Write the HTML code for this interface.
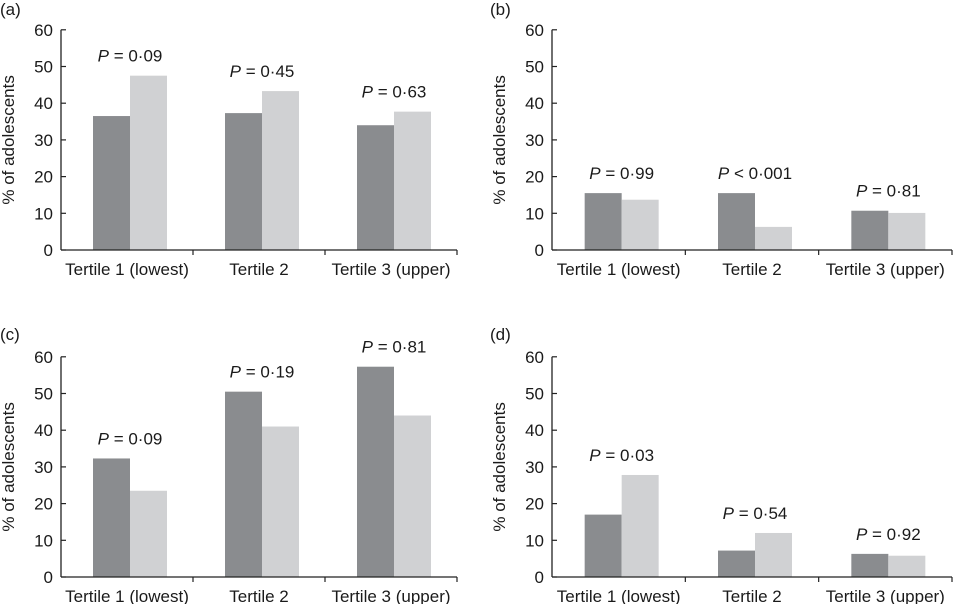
<!DOCTYPE html>
<html><head><meta charset="utf-8">
<style>
body{margin:0;background:#fff;}
svg text{font-family:"Liberation Sans",Arial,sans-serif;font-size:17px;fill:#1a1a1a;}
</style></head>
<body>
<svg id="chart" width="954" height="604" xmlns="http://www.w3.org/2000/svg"></svg>
<script>
const categories = ["Tertile 1 (lowest)", "Tertile 2", "Tertile 3 (upper)"];
const panelLetters = ["(a)", "(b)", "(c)", "(d)"];
const yTicks = [0, 10, 20, 30, 40, 50, 60];
const seriesDarkA = [36.5, 37.3, 34];
const seriesLightA = [47.5, 43.3, 37.7];
const seriesDarkB = [15.5, 15.5, 10.7];
const seriesLightB = [13.7, 6.3, 10.1];
const seriesDarkC = [32.3, 50.5, 57.3];
const seriesLightC = [23.5, 41, 44];
const seriesDarkD = [17, 7.2, 6.3];
const seriesLightD = [27.8, 12, 5.8];
const pLabelsA = ["P = 0·09", "P = 0·45", "P = 0·63"];
const pLabelsB = ["P = 0·99", "P < 0·001", "P = 0·81"];
const pLabelsC = ["P = 0·09", "P = 0·19", "P = 0·81"];
const pLabelsD = ["P = 0·03", "P = 0·54", "P = 0·92"];

const NS = "http://www.w3.org/2000/svg";
const svg = document.getElementById("chart");
function mk(tag, attrs, parent){const e=document.createElementNS(NS,tag);for(const k in attrs)e.setAttribute(k,attrs[k]);(parent||svg).appendChild(e);return e;}

const panels = [
 {x0:61, y0:250, w:396, dark:seriesDarkA, light:seriesLightA, p:pLabelsA, letter:panelLetters[0], lx:0, ly:15},
 {x0:552, y0:250, w:400, dark:seriesDarkB, light:seriesLightB, p:pLabelsB, letter:panelLetters[1], lx:490, ly:15},
 {x0:61, y0:577, w:396, dark:seriesDarkC, light:seriesLightC, p:pLabelsC, letter:panelLetters[2], lx:0, ly:340},
 {x0:552, y0:577, w:400, dark:seriesDarkD, light:seriesLightD, p:pLabelsD, letter:panelLetters[3], lx:490, ly:340}
];
const names=["a","b","c","d"];
panels.forEach((P,pi)=>{
  const g = mk("g",{});
  
  
  const yS = v => P.y0 - v*3.67;
  const cw = P.w/3;
  const lt = mk("text",{x:P.lx,y:P.ly},g); lt.textContent=P.letter;
  
  
  const ya = mk("line",{x1:P.x0,y1:yS(60),x2:P.x0,y2:P.y0,stroke:"#222","stroke-width":1.3},g);
  
  
  yTicks.forEach(t=>{
    mk("line",{x1:P.x0,y1:yS(t),x2:P.x0+5,y2:yS(t),stroke:"#222","stroke-width":1.2},g);
    const tt = mk("text",{x:P.x0-8,y:yS(t)+6,"text-anchor":"end"},g); tt.textContent=t;
    
    
  });
  const yt = mk("text",{transform:`translate(${P.x0-47},${yS(30)}) rotate(-90)`,"text-anchor":"middle"},g);
  yt.textContent="% of adolescents";
  
  
  categories.forEach((c,i)=>{
    const cx = P.x0 + cw*(i+0.5);
    const bw = 37;
    const bx = cx - bw + 3;
    const bd = mk("rect",{x:bx,y:yS(P.dark[i]),width:bw,height:P.y0-yS(P.dark[i]),fill:"#8a8c8f"},g);
    
    
    const bl = mk("rect",{x:bx+bw,y:yS(P.light[i]),width:bw,height:P.y0-yS(P.light[i]),fill:"#d0d1d3"},g);
    
    
    const top = yS(Math.max(P.dark[i],P.light[i]));
    const pt = mk("text",{x:cx+3,y:top-14,"text-anchor":"middle"},g);
    const parts = P.p[i].split(" ");
    const ts1 = mk("tspan",{"font-style":"italic"},pt); ts1.textContent=parts[0];
    const ts2 = mk("tspan",{},pt); ts2.textContent=" "+parts.slice(1).join(" ");
    
    
    const xl = mk("text",{x:cx,y:P.y0+25,"text-anchor":"middle"},g); xl.textContent=c;
    
    
    if(i>0) mk("line",{x1:P.x0+cw*i,y1:P.y0,x2:P.x0+cw*i,y2:P.y0+5,stroke:"#222","stroke-width":1.2},g);
  });
  mk("line",{x1:P.x0+P.w,y1:P.y0,x2:P.x0+P.w,y2:P.y0+5,stroke:"#222","stroke-width":1.2},g);
  const xa = mk("line",{x1:P.x0,y1:P.y0,x2:P.x0+P.w,y2:P.y0,stroke:"#222","stroke-width":1.3},g);
  
  
});
</script>
</body></html>
